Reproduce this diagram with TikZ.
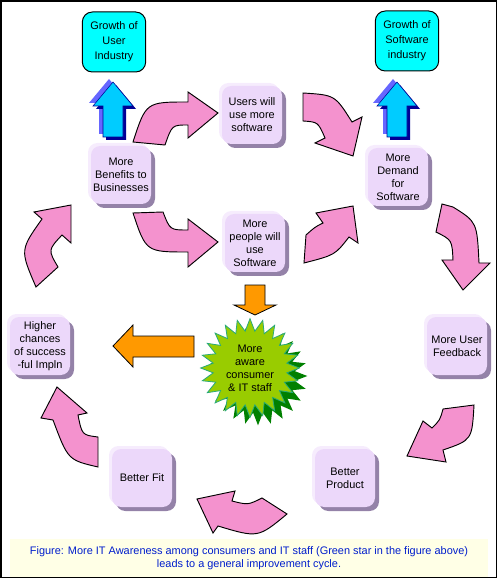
\documentclass[tikz,border=0pt]{standalone}
\usepackage{fontspec}
\setmainfont{Liberation Sans}
\usetikzlibrary{shapes.geometric,shadows}

\definecolor{lavanda}{RGB}{236,216,250}
\definecolor{lavandaClara}{RGB}{246,236,253}
\definecolor{sombraCaja}{RGB}{148,130,168}
\definecolor{cian}{RGB}{0,255,255}
\definecolor{azulFlecha}{RGB}{0,204,255}
\definecolor{azulFondo}{RGB}{102,102,255}
\definecolor{azulOscuro}{RGB}{0,0,150}
\definecolor{rosa}{RGB}{244,146,206}
\definecolor{naranja}{RGB}{255,153,0}
\definecolor{verdeClaro}{RGB}{153,204,0}
\definecolor{verdeOscuro}{RGB}{0,128,0}
\definecolor{bordeVerde}{RGB}{40,170,120}
\definecolor{amarilloPalido}{RGB}{255,255,230}
\definecolor{azulTexto}{RGB}{0,30,204}

\begin{document}
\begin{tikzpicture}[
    x=0.75pt,
    y=-0.75pt,
    texto/.style={font=\fontsize{8.2}{9.8}\selectfont, align=center},
    caja/.style={texto, fill=lavanda, rounded corners=7pt,
        minimum width=45pt, minimum height=43.5pt, inner sep=1pt,
        general shadow={fill=sombraCaja, shadow xshift=3pt, shadow yshift=-3pt},
        general shadow={fill=lavandaClara, shadow xshift=-2.25pt, shadow yshift=2.25pt}},
    crecimiento/.style={align=center, font=\fontsize{8.2}{11.2}\selectfont, draw, fill=cian,
        rounded corners=7.5pt, minimum width=47.5pt, minimum height=45pt, line width=0.75pt},
    estrella/.style={texto, star, star points=24, star point ratio=1.33,
        minimum size=74pt, inner sep=0pt, fill=verdeClaro, draw=bordeVerde, line width=0.6pt,
        general shadow={fill=verdeOscuro, shadow xshift=6pt, shadow yshift=-6pt}},
    flechaRosa/.style={draw=black, fill=rosa, line width=0.7pt},
    flechaNaranja/.style={draw=black, fill=naranja, line width=0.6pt}
]
\useasboundingbox (0,0) rectangle (499,580);

% Marco y leyenda
\draw[line width=1.1pt] (1,1) rectangle (496.5,577.5);
\fill[amarilloPalido] (10,539) rectangle (488,577);
\node[texto, text=azulTexto] (leyenda) at (249,558)
    {Figure: More IT Awareness among consumers and IT staff (Green star in the figure above)\\
     leads to a general improvement cycle.};

% Cajas del ciclo
\node[caja] (beneficios) at (121,175) {More\\Benefits to\\Businesses};
\node[caja] (usuarios) at (252,115) {Users will\\use more\\software};
\node[caja] (personas) at (255,243) {More\\people will\\use\\Software};
\node[caja] (demanda) at (398,177) {More\\Demand\\for\\Software};
\node[caja] (retro) at (457,346) {More User\\Feedback};
\node[caja] (exito) at (40,346) {Higher\\chances\\of success\\-ful Impln};
\node[caja] (ajuste) at (142,478) {Better Fit};
\node[caja] (producto) at (345,478) {Better\\Product};

% Crecimiento de la industria
\node[crecimiento] (industriaUsuario) at (114,42) {Growth of\\User\\Industry};
\node[crecimiento] (industriaSoftware) at (407,41) {Growth of\\Software\\industry};
\foreach \cx in {113,397}
{
    \begin{scope}[shift={(\cx,0)}]
        \fill[azulFondo] (-4,79) -- (16,103) -- (6,103) -- (6,134) -- (-14,134) -- (-14,103) -- (-24,103) -- cycle;
        \fill[azulOscuro] (3,85) -- (23,109) -- (13,109) -- (13,140) -- (-7,140) -- (-7,109) -- (-17,109) -- cycle;
        \filldraw[fill=azulFlecha, draw=azulOscuro, line width=0.4pt]
            (0,82) -- (20,106) -- (10,106) -- (10,137) -- (-10,137) -- (-10,106) -- (-20,106) -- cycle;
    \end{scope}
}

% Estrella
\node[estrella] (conciencia) at (250,368) {More\\aware\\consumer\\\& IT staff};
\filldraw[flechaNaranja] (245,285) -- (265,285) -- (265,305) -- (276,305) -- (255,315) -- (234,305) -- (245,305) -- cycle;
\filldraw[flechaNaranja] (194,336) -- (194,357) -- (133,357) -- (133,367) -- (113,346) -- (133,325) -- (133,336) -- cycle;

% Flechas curvas del ciclo
\filldraw[flechaRosa] (133,142) .. controls (146,102) .. (188,102) -- (188,92) -- (218,113) -- (188,138) -- (188,125) .. controls (172,125) .. (165,145) -- cycle;
\filldraw[flechaRosa] (133,213) .. controls (146,252) .. (188,252) -- (188,267) -- (218,242) -- (188,219) -- (188,230) .. controls (170,230) .. (163,212) -- cycle;
\filldraw[flechaRosa] (303,93) .. controls (335,95) .. (352,122) -- (362,117) -- (353,156) -- (315,143) -- (325,138) .. controls (318,122) .. (303,121) -- cycle;
\filldraw[flechaRosa] (304,263) -- (306,235) .. controls (315,227) .. (323,223) -- (316,213) -- (353,206) -- (358,243) -- (349,237) .. controls (335,255) .. (304,263) -- cycle;
\filldraw[flechaRosa] (442,204) -- (453,207) .. controls (477,222) .. (479,263) -- (490,263) -- (463,290) -- (442,260) -- (453,260) .. controls (452,240) .. (436,232) -- cycle;
\filldraw[flechaRosa] (443,409) -- (474,405) .. controls (472,440) .. (443,450) -- (446,462) -- (407,456) -- (423,421) -- (432,428) .. controls (440,420) .. (443,409) -- cycle;
\filldraw[flechaRosa] (197,499) -- (235,491) -- (232,501) .. controls (248,505) .. (262,498) -- (287,514) .. controls (258,538) .. (218,526) -- (213,533) -- cycle;
\filldraw[flechaRosa] (98,467) .. controls (68,460) .. (53,420) -- (41,418) -- (57,387) -- (87,413) -- (78,415) .. controls (82,435) .. (98,437) -- cycle;
\filldraw[flechaRosa] (36,287) .. controls (20,250) .. (42,219) -- (34,212) -- (71,205) -- (71,243) -- (62,235) .. controls (48,250) .. (58,267) -- cycle;

\end{tikzpicture}
\end{document}
